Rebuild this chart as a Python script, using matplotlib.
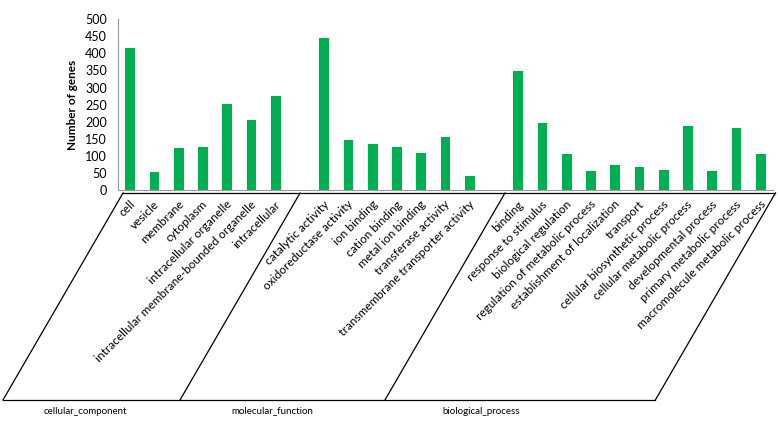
import numpy as np
import matplotlib.pyplot as plt
from matplotlib.transforms import blended_transform_factory, ScaledTranslation

plt.rcParams['font.family'] = ['Lato', 'DejaVu Sans']

# GO terms and gene counts per category
cc_terms = ["cell", "vesicle", "membrane", "cytoplasm", "intracellular organelle",
            "intracellular membrane-bounded organelle", "intracellular"]
cc_counts = [416, 52, 122, 125, 252, 204, 276]

mf_terms = ["catalytic activity", "oxidoreductase activity", "ion binding", "cation binding",
            "metal ion binding", "transferase activity", "transmembrane transporter activity"]
mf_counts = [445, 146, 134, 125, 108, 156, 42]

bp_terms = ["binding", "response to stimulus", "biological regulation",
            "regulation of metabolic process", "establishment of localization", "transport",
            "cellular biosynthetic process", "cellular metabolic process",
            "developmental process", "primary metabolic process",
            "macromolecule metabolic process"]
bp_counts = [348, 197, 105, 55, 74, 67, 59, 187, 55, 180, 105]

group_names = ["cellular_component", "molecular_function", "biological_process"]
groups = [(cc_terms, cc_counts), (mf_terms, mf_counts), (bp_terms, bp_counts)]

# slot positions, one empty slot between groups
xs, labels, counts = [], [], []
pos = 0
for terms, vals in groups:
    xs.extend(range(pos, pos + len(terms)))
    labels.extend(terms)
    counts.extend(vals)
    pos += len(terms) + 1

fig = plt.figure(figsize=(7.8, 4.26), dpi=100)
ax = fig.add_axes([0.1515, 0.554, 0.8395, 0.401])

ax.bar(xs, counts, width=0.4, color="#00B050")

ax.set_xlim(-0.5, 26.5)
ax.set_ylim(0, 500)
ax.set_yticks(np.arange(0, 501, 50))
ax.tick_params(axis="y", length=0, pad=8, labelsize=9)
ax.tick_params(axis="x", length=0, pad=9, labelsize=8.6)
ax.set_xticks(xs)
ax.set_xticklabels(labels, rotation=45, ha="right", va="center", rotation_mode="anchor")
shift = ScaledTranslation(2 / 72, 0, fig.dpi_scale_trans)
for lab in ax.get_xticklabels():
    lab.set_transform(lab.get_transform() + shift)

ax.set_ylabel("Number of genes", fontweight="bold", fontsize=8.5, labelpad=5)

for side in ["top", "right"]:
    ax.spines[side].set_visible(False)
for side in ["left", "bottom"]:
    ax.spines[side].set_color("#9a9a9a")

# slanted multi-level category box below the axis
trans = blended_transform_factory(ax.transData, fig.transFigure)
y_top, y_bot = 0.547, 0.061
tops = [-0.3, 7.0, 15.45, 26.6]
slant = 4.95
for t in tops:
    ax.plot([t, t - slant], [y_top, y_bot], color="black", lw=0.9,
            transform=trans, clip_on=False)
ax.plot([tops[0], tops[-1]], [y_top, y_top], color="black", lw=0.9,
        transform=trans, clip_on=False)
ax.plot([tops[0] - slant, tops[-1] - slant], [y_bot, y_bot], color="black", lw=0.9,
        transform=trans, clip_on=False)

group_x = [-1.87, 5.84, 14.46]
for gx, name in zip(group_x, group_names):
    ax.text(gx, 0.035, name, transform=trans, ha="center", va="center", fontsize=7)

fig.savefig("out.png", dpi=100)
